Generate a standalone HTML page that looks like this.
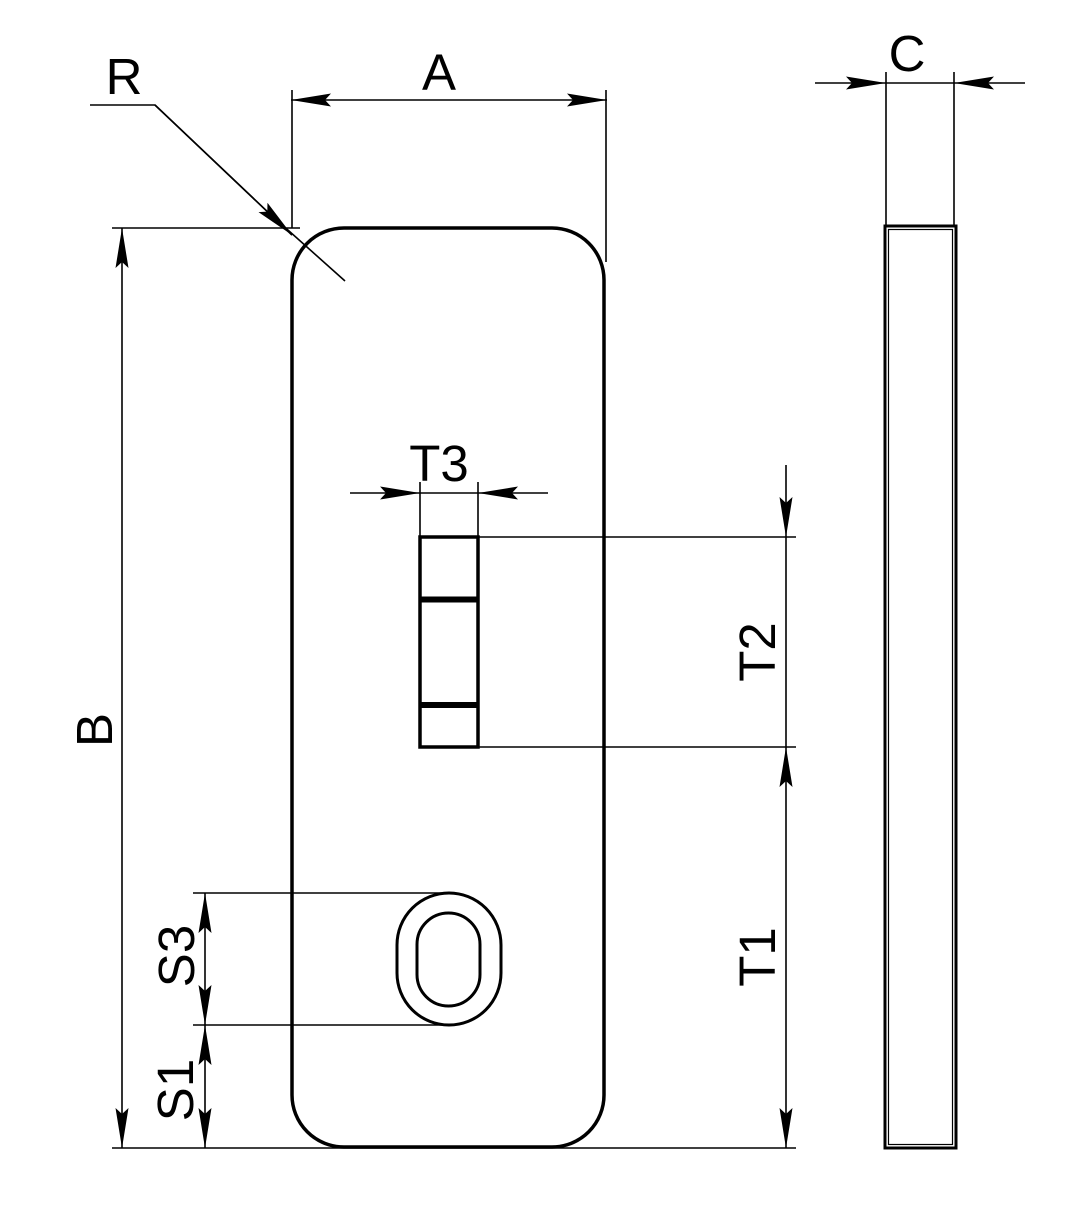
<!DOCTYPE html>
<html><head><meta charset="utf-8"><style>
html,body{margin:0;padding:0;background:#fff;}
svg{display:block;}
text{font-family:"Liberation Sans",sans-serif;font-size:51px;fill:#000;}
</style></head><body>
<svg width="1084" height="1222" viewBox="0 0 1084 1222" xmlns="http://www.w3.org/2000/svg">
<defs>
<marker id="ar" markerUnits="userSpaceOnUse" markerWidth="44" markerHeight="16" refX="40" refY="7" orient="auto-start-reverse" viewBox="0 0 44 14">
<path d="M0,0.5 L40,7 L0,13.5 L6,7 Z" fill="#000"/>
</marker>
</defs>
<g fill="none" stroke="#000">
<rect x="292" y="228" width="312" height="919" rx="52" ry="52" stroke-width="3.5"/>
<rect x="397" y="893" width="104" height="132" rx="52" ry="52" stroke-width="3"/>
<rect x="417" y="913" width="63" height="93" rx="31.5" ry="31.5" stroke-width="3"/>
<rect x="420" y="537" width="58" height="210" stroke-width="3.5"/>
<line x1="420" y1="599.5" x2="478" y2="599.5" stroke-width="6"/>
<line x1="420" y1="705" x2="478" y2="705" stroke-width="6"/>
<rect x="885" y="226" width="71" height="922" stroke-width="3"/>
<rect x="888.5" y="229.5" width="64" height="915" stroke-width="1.2"/>

<g stroke-width="1.6">
<line x1="292" y1="90" x2="292" y2="228"/>
<line x1="606" y1="90" x2="606" y2="262"/>
<line x1="291" y1="100" x2="607" y2="100" marker-start="url(#ar)" marker-end="url(#ar)"/>
<polyline points="90,105 155,105 292,235"/>
<line x1="270" y1="214" x2="345" y2="281"/>
<line x1="155" y1="105" x2="292" y2="235" marker-end="url(#ar)"/>
<line x1="112" y1="228" x2="300" y2="228"/>
<line x1="112" y1="1148" x2="796" y2="1148"/>
<line x1="122" y1="228" x2="122" y2="1148" marker-start="url(#ar)" marker-end="url(#ar)"/>
<line x1="420" y1="482" x2="420" y2="537"/>
<line x1="478" y1="482" x2="478" y2="537"/>
<line x1="420" y1="493" x2="478" y2="493"/>
<line x1="350" y1="493" x2="420" y2="493" marker-end="url(#ar)"/>
<line x1="548" y1="493" x2="478" y2="493" marker-end="url(#ar)"/>
<line x1="478" y1="537" x2="796" y2="537"/>
<line x1="420" y1="747" x2="796" y2="747"/>
<line x1="786" y1="465" x2="786" y2="537" marker-end="url(#ar)"/>
<line x1="786" y1="537" x2="786" y2="747"/>
<line x1="786" y1="747" x2="786" y2="1148" marker-start="url(#ar)" marker-end="url(#ar)"/>
<line x1="193" y1="893" x2="450" y2="893"/>
<line x1="193" y1="1025" x2="450" y2="1025"/>
<line x1="205" y1="893" x2="205" y2="1025" marker-start="url(#ar)" marker-end="url(#ar)"/>
<line x1="205" y1="1025" x2="205" y2="1148" marker-start="url(#ar)" marker-end="url(#ar)"/>
<line x1="886" y1="72" x2="886" y2="226"/>
<line x1="954" y1="72" x2="954" y2="226"/>
<line x1="886" y1="83" x2="954" y2="83"/>
<line x1="815" y1="83" x2="886" y2="83" marker-end="url(#ar)"/>
<line x1="1025" y1="83" x2="954" y2="83" marker-end="url(#ar)"/>
</g>
</g>
<text x="124" y="94" text-anchor="middle">R</text>
<text x="439" y="90" text-anchor="middle">A</text>
<text x="907" y="71" text-anchor="middle">C</text>
<text x="439" y="481" text-anchor="middle">T3</text>
<text transform="translate(112,730) rotate(-90)" text-anchor="middle">B</text>
<text transform="translate(775,652) rotate(-90)" text-anchor="middle">T2</text>
<text transform="translate(775,957) rotate(-90)" text-anchor="middle">T1</text>
<text transform="translate(194,956) rotate(-90)" text-anchor="middle">S3</text>
<text transform="translate(193,1090) rotate(-90)" text-anchor="middle">S1</text>
</svg>
</body></html>
